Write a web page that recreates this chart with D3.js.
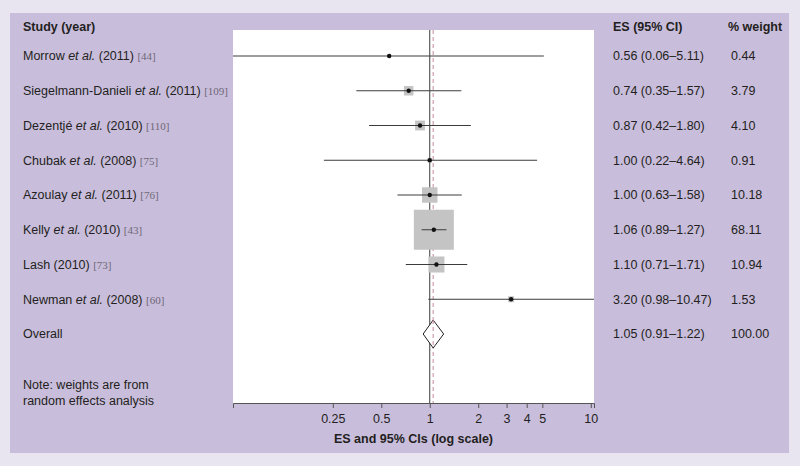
<!DOCTYPE html>
<html><head><meta charset="utf-8">
<script src="https://cdn.jsdelivr.net/npm/d3@7"></script>
<style>
html,body{margin:0;padding:0;background:#e8e5f1;}
svg{display:block;font-family:"Liberation Sans",Arial,Helvetica,sans-serif;}
</style></head>
<body>
<svg id="c" width="800" height="466"></svg>
<script>
const studies = ["Morrow", "Siegelmann-Danieli", "Dezentjé", "Chubak", "Azoulay", "Kelly", "Lash", "Newman"];
const etal = [true, true, true, true, true, true, false, true];
const years = ["2011", "2011", "2010", "2008", "2011", "2010", "2010", "2008"];
const refs = ["[44]", "[109]", "[110]", "[75]", "[76]", "[43]", "[73]", "[60]"];
const es = [0.56, 0.74, 0.87, 1.00, 1.00, 1.06, 1.10, 3.20];
const lower = [0.06, 0.35, 0.42, 0.22, 0.63, 0.89, 0.71, 0.98];
const upper = [5.11, 1.57, 1.80, 4.64, 1.58, 1.27, 1.71, 10.47];
const weights = [0.44, 3.79, 4.10, 0.91, 10.18, 68.11, 10.94, 1.53];
const overall = {es: 1.05, lower: 0.91, upper: 1.22, weight: 100.00};
const xTicks = [0.25, 0.5, 1, 2, 3, 4, 5, 10];

const svg = d3.select("#c");
const fmt = d3.format(".2f");

// panels
svg.append("rect").attr("x",10).attr("y",13).attr("width",779).attr("height",440).attr("fill","#c9bddc");
const plotL = 233, plotR = 594, plotT = 30, plotB = 403;
svg.append("rect").attr("x",plotL).attr("y",plotT).attr("width",plotR-plotL).attr("height",plotB-plotT).attr("fill","#ffffff");

const x = d3.scaleLog().domain([d3.min(lower), d3.max(upper)]).range([plotL, plotR]);
const rows = studies.map((s,i)=>i);
const y = d3.scalePoint().domain(d3.range(studies.length+1)).range([56, 334]);

// header
const hdr = svg.append("g").attr("font-weight","bold").attr("font-size",12.5).attr("fill","#231f20");
hdr.append("text").attr("x",23).attr("y",27).attr("dy","0.35em").text("Study (year)");
hdr.append("text").attr("x",613).attr("y",27).attr("dy","0.35em").text("ES (95% CI)");
hdr.append("text").attr("x",728).attr("y",27).attr("dy","0.35em").text("% weight");

// labels
const lab = svg.append("g").attr("font-size",12.5).attr("fill","#231f20");
rows.forEach(i=>{
  const t = lab.append("text").attr("x",23).attr("y",y(i)).attr("dy","0.35em");
  t.append("tspan").text(studies[i] + " ");
  if (etal[i]) { t.append("tspan").attr("font-style","italic").text("et al."); t.append("tspan").text(" "); }
  t.append("tspan").text("(" + years[i] + ") ");
  t.append("tspan").attr("font-family","'Liberation Serif','Times New Roman',serif").attr("font-size",11).attr("fill","#6d6875").text(refs[i]);
  lab.append("text").attr("x",613).attr("y",y(i)).attr("dy","0.35em").text(fmt(es[i]) + " (" + fmt(lower[i]) + "–" + fmt(upper[i]) + ")");
  lab.append("text").attr("x",731).attr("y",y(i)).attr("dy","0.35em").text(fmt(weights[i]));
});
const oi = studies.length;
lab.append("text").attr("x",23).attr("y",y(oi)).attr("dy","0.35em").text("Overall");
lab.append("text").attr("x",613).attr("y",y(oi)).attr("dy","0.35em").text(fmt(overall.es) + " (" + fmt(overall.lower) + "–" + fmt(overall.upper) + ")");
lab.append("text").attr("x",731).attr("y",y(oi)).attr("dy","0.35em").text(fmt(overall.weight));
lab.append("text").attr("x",23).attr("y",385).attr("dy","0.35em").text("Note: weights are from");
lab.append("text").attr("x",23).attr("y",401).attr("dy","0.35em").text("random effects analysis");

// reference lines
svg.append("line").attr("x1",x(1)).attr("x2",x(1)).attr("y1",plotT).attr("y2",plotB).attr("stroke","#3a3a3a").attr("stroke-width",1);
svg.append("line").attr("x1",x(overall.es)).attr("x2",x(overall.es)).attr("y1",plotT).attr("y2",plotB)
  .attr("stroke","#c48a98").attr("stroke-width",1).attr("stroke-dasharray","4,3");

// boxes
const maxSide = 40, maxW = d3.max(weights);
const side = w => maxSide * Math.sqrt(w / maxW);
svg.append("g").selectAll("rect").data(rows).join("rect")
  .attr("x", i => x(es[i]) - side(weights[i])/2)
  .attr("y", i => y(i) - side(weights[i])/2)
  .attr("width", i => side(weights[i]))
  .attr("height", i => side(weights[i]))
  .attr("fill", "#c4c4c4");

// CI lines
svg.append("g").selectAll("line").data(rows).join("line")
  .attr("x1", i => x(lower[i])).attr("x2", i => x(upper[i]))
  .attr("y1", i => y(i)).attr("y2", i => y(i))
  .attr("stroke", "#3c3c3c").attr("stroke-width", 1);

// points
svg.append("g").selectAll("circle").data(rows).join("circle")
  .attr("cx", i => x(es[i])).attr("cy", i => y(i)).attr("r", 2.2).attr("fill", "#111");

// diamond
const dy = y(oi), dh = 14;
svg.append("path")
  .attr("d", `M${x(overall.lower)},${dy}L${x(overall.es)},${dy-dh}L${x(overall.upper)},${dy}L${x(overall.es)},${dy+dh}Z`)
  .attr("fill","#ffffff").attr("stroke","#222").attr("stroke-width",1);
// dashed line passes through diamond
svg.append("line").attr("x1",x(overall.es)).attr("x2",x(overall.es)).attr("y1",dy-dh).attr("y2",dy+dh)
  .attr("stroke","#c48a98").attr("stroke-width",1).attr("stroke-dasharray","4,3");

// axis
const ax = svg.append("g").attr("transform",`translate(0,${plotB})`)
  .call(d3.axisBottom(x).tickValues(xTicks).tickFormat(d => String(d)).tickSizeOuter(0).tickSize(5).tickPadding(6));
ax.select(".domain").attr("stroke","#555");
ax.selectAll(".tick line").attr("stroke","#555");
ax.selectAll(".tick text").attr("font-size",12.5).attr("fill","#231f20").attr("font-family","'Liberation Sans',Arial,sans-serif");
svg.append("text").attr("x",(plotL+plotR)/2).attr("y",439).attr("dy","0.35em").attr("text-anchor","middle")
  .attr("font-weight","bold").attr("font-size",12.5).attr("fill","#231f20").text("ES and 95% CIs (log scale)");
</script>
</body></html>
